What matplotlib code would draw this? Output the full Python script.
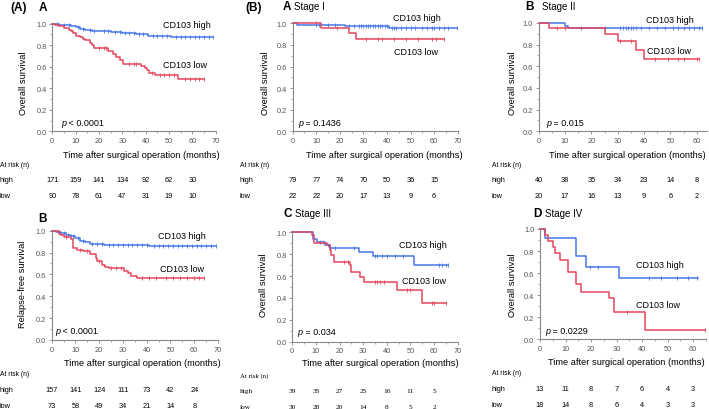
import numpy as np
import matplotlib
matplotlib.use("Agg")
import matplotlib.pyplot as plt
from matplotlib.transforms import blended_transform_factory
from matplotlib.ticker import MultipleLocator

W, H = 709, 410
BLUE = "#4676e6"
RED = "#e6455c"
AXGRAY = "#8a8a8a"
TICKGRAY = "#555555"

plt.rcParams["font.family"] = ["Liberation Sans", "DejaVu Sans"]

# ---- data ----
# (A) A: overall survival, all patients
osA_high_t = [0, 3, 5, 8, 10, 12, 14, 17, 25, 30, 36, 41, 51, 69]
osA_high_s = [1.0, 0.99, 0.985, 0.975, 0.965, 0.955, 0.94, 0.93, 0.92, 0.91, 0.90, 0.89, 0.875, 0.875]
osA_high_c = [2, 5, 7, 11, 13, 16, 18, 22, 24, 27, 29, 31, 33, 35, 37, 39, 43, 45, 47, 49,
              53, 55, 57, 59, 61, 63, 65, 67, 69]
osA_low_t = [0, 1, 3, 5, 7, 8, 9, 10, 12, 13, 14, 16, 17, 18, 24, 26, 27.5, 29, 30.5,
             38, 39.5, 40.5, 41.5, 44, 54, 65]
osA_low_s = [1.0, 0.99, 0.975, 0.96, 0.945, 0.93, 0.91, 0.89, 0.875, 0.86, 0.845, 0.82, 0.80,
             0.775, 0.75, 0.72, 0.69, 0.66, 0.625, 0.61, 0.59, 0.57, 0.545, 0.52, 0.49, 0.49]
osA_low_c = [20, 22, 23, 33, 35, 36, 42.5, 46, 48, 50, 52, 57, 59, 61, 63, 65]

# (A) B: relapse-free survival
rfs_high_t = [0, 2, 4, 6, 8, 10, 12, 14, 16, 22, 41, 69]
rfs_high_s = [1.0, 0.99, 0.98, 0.965, 0.95, 0.93, 0.91, 0.895, 0.88, 0.87, 0.857, 0.857]
rfs_high_c = [3, 5, 7, 9, 11, 13, 17, 19, 21, 24, 26, 28, 30, 32, 34, 36, 38, 40, 43, 45,
              47, 49, 51, 53, 55, 57, 59, 61, 63, 65, 67, 69]
rfs_low_t = [0, 3, 4, 5, 8, 9, 10.5, 13, 16, 18.5, 19, 21, 22.5, 24, 30.5, 32, 33.5, 36, 64]
rfs_low_s = [1.0, 0.97, 0.96, 0.945, 0.92, 0.84, 0.825, 0.81, 0.79, 0.75, 0.72, 0.69, 0.67,
             0.66, 0.635, 0.61, 0.59, 0.57, 0.57]
rfs_low_c = [6, 12, 15, 20, 25, 27, 29, 38, 41, 44, 48, 51, 54, 57, 60, 62, 64]

# (B) A: stage I
s1_high_t = [0, 2, 22, 41, 69.5]
s1_high_s = [1.0, 0.987, 0.974, 0.961, 0.961]
s1_high_c = [10, 11, 15, 18, 24, 26, 28, 29, 30, 31, 32, 33, 34, 35, 36, 37, 38, 39, 40, 42,
             43, 44, 46, 48, 50, 52, 55, 57, 59, 60, 62, 64, 66, 69.5]
s1_low_t = [0, 12, 24, 27, 64]
s1_low_s = [1.0, 0.955, 0.91, 0.855, 0.855]
s1_low_c = [10, 19, 31, 36, 38, 43, 48, 53, 59, 61, 64]

# (B) B: stage II
s2_high_t = [0, 10, 11, 62]
s2_high_s = [1.0, 0.975, 0.95, 0.95]
s2_high_c = [16, 25, 31, 32, 33, 34, 35, 36, 37, 39, 42, 45, 48, 51, 53, 55, 57, 59, 61, 62]
s2_low_t = [0, 4, 25, 30, 37, 40, 61]
s2_low_s = [1.0, 0.95, 0.895, 0.83, 0.75, 0.665, 0.665]
s2_low_c = [7, 10, 31, 35, 44, 49, 53, 55, 60, 61]

# (B) C: stage III
s3_high_t = [0, 8.6, 10.3, 13.8, 15.9, 28.2, 34.3, 51.6, 66]
s3_high_s = [1.0, 0.94, 0.915, 0.885, 0.855, 0.82, 0.78, 0.70, 0.70]
s3_high_c = [11.7, 13, 15, 18, 26, 35, 36, 38, 40, 43.4, 47, 62, 63.5, 65, 66]
s3_low_t = [0, 8.2, 9, 14.5, 16, 16.5, 17.5, 24.4, 25, 28.6, 30.3, 44.4, 54.7, 64.9]
s3_low_s = [1.0, 0.975, 0.90, 0.88, 0.84, 0.79, 0.73, 0.70, 0.635, 0.59, 0.55, 0.47, 0.355, 0.355]
s3_low_c = [21.9, 23.4, 35, 36, 37, 39, 48.4, 50, 59, 60, 64.9]

# (B) D: stage IV
s4_high_t = [0, 2, 14, 18, 31, 62]
s4_high_s = [1.0, 0.92, 0.753, 0.66, 0.557, 0.557]
s4_high_c = [19.7, 22.6, 42.7, 47.4, 53.5, 57.8, 61.5]
s4_low_t = [0, 2, 3, 5, 6, 8, 11, 14, 16, 27, 29, 41, 64.5]
s4_low_s = [1.0, 0.944, 0.889, 0.833, 0.778, 0.722, 0.611, 0.50, 0.43, 0.37, 0.247, 0.08, 0.08]
s4_low_c = [34, 64.5]

risk_times = [0, 10, 20, 30, 40, 50, 60]
osA_risk_high = [171, 159, 141, 134, 92, 62, 30]
osA_risk_low = [90, 78, 61, 47, 31, 19, 10]
rfs_risk_high = [157, 141, 124, 111, 73, 42, 24]
rfs_risk_low = [73, 58, 49, 34, 21, 14, 8]
s1_risk_high = [79, 77, 74, 70, 50, 36, 15]
s1_risk_low = [22, 22, 20, 17, 13, 9, 6]
s2_risk_high = [40, 38, 35, 34, 23, 14, 8]
s2_risk_low = [20, 17, 16, 13, 9, 6, 2]
s3_risk_high = [39, 35, 27, 25, 16, 11, 5]
s3_risk_low = [30, 28, 20, 14, 8, 5, 2]
s4_risk_high = [13, 11, 8, 7, 6, 4, 3]
s4_risk_low = [18, 14, 8, 6, 4, 3, 3]

fig = plt.figure(figsize=(W / 100, H / 100), dpi=100)


def ftext(x, y, s, **kw):
    """Text placed by pixel position (y from the top)."""
    kw.setdefault("va", "center")
    fig.text(x / W, 1 - y / H, s, **kw)


def km_axes(left, right, top, bottom, xmax):
    ax = fig.add_axes([left / W, 1 - bottom / H, (right - left) / W, (bottom - top) / H])
    ax.set_xlim(0, xmax)
    ax.set_ylim(0, 1)
    for side in ("top", "right"):
        ax.spines[side].set_visible(False)
    for side in ("left", "bottom"):
        ax.spines[side].set_color(AXGRAY)
        ax.spines[side].set_linewidth(0.8)
    ax.xaxis.set_major_locator(MultipleLocator(10))
    ax.xaxis.set_minor_locator(MultipleLocator(5))
    ax.yaxis.set_major_locator(MultipleLocator(0.2))
    ax.yaxis.set_minor_locator(MultipleLocator(0.1))
    ax.yaxis.set_major_formatter(lambda v, p: f"{v:.1f}")
    ax.tick_params(which="major", length=2.5, width=0.6, color=AXGRAY,
                   labelsize=5.3, labelcolor=TICKGRAY, pad=1.5)
    ax.tick_params(which="minor", length=1.5, width=0.5, color=AXGRAY)
    ax.patch.set_alpha(0)
    return ax


def km_curve(ax, t, s, cens, color):
    ax.step(t, s, where="post", color=color, lw=1.1, clip_on=False)
    t = np.asarray(t)
    s = np.asarray(s)
    idx = np.searchsorted(t, cens, side="right") - 1
    ax.plot(cens, s[idx], ls="none", marker="|", ms=3, mew=0.6, color=color, clip_on=False)


def risk_table(ax, x_lab, y0, high, low, family=None):
    kw = {"fontsize": 5.3}
    if family:
        kw["family"] = family
    ftext(x_lab, y0, "At risk (n)", **dict(kw, fontsize=4.9))
    ftext(x_lab, y0 + 15.5, "high", **kw)
    ftext(x_lab, y0 + 31.5, "low", **kw)
    tr = blended_transform_factory(ax.transData, fig.transFigure)
    for tm, h, l in zip(risk_times, high, low):
        ax.text(tm, 1 - (y0 + 15.5) / H, str(h), transform=tr, ha="center", va="center", **kw)
        ax.text(tm, 1 - (y0 + 31.5) / H, str(l), transform=tr, ha="center", va="center", **kw)


def ptext(x, y, s):
    # italic p followed by the upright rest of the p-value
    ftext(x, y, "p", fontsize=6.5, style="italic")
    ftext(x + 5.0, y, s, fontsize=6.5)


LAB = 6.7
CD = 6.5

# ---------------- (A) A ----------------
ax = km_axes(52.3, 215.7, 24.7, 132.3, 70)
km_curve(ax, osA_high_t, osA_high_s, osA_high_c, BLUE)
km_curve(ax, osA_low_t, osA_low_s, osA_low_c, RED)
ftext(10, 8, "(A)", fontsize=8.5, fontweight="bold")
ftext(39, 8, "A", fontsize=8.5, fontweight="bold")
ftext(23, 83, "Overall survival", fontsize=LAB, rotation=90, ha="center")
ftext(141, 155.7, "Time after surgical operation (months)", fontsize=LAB, ha="center")
ftext(163, 25, "CD103 high", fontsize=CD)
ftext(163, 65, "CD103 low", fontsize=CD)
ptext(61, 123, " < 0.0001")
risk_table(ax, 0, 165.5, osA_risk_high, osA_risk_low)

# ---------------- (A) B ----------------
ax = km_axes(51.7, 218, 231.7, 341, 70)
km_curve(ax, rfs_high_t, rfs_high_s, rfs_high_c, BLUE)
km_curve(ax, rfs_low_t, rfs_low_s, rfs_low_c, RED)
ftext(38, 219, "B", fontsize=8.5, fontweight="bold")
ftext(23, 284, "Relapse-free survival", fontsize=LAB, rotation=90, ha="center")
ftext(142.5, 364, "Time after surgical operation (months)", fontsize=LAB, ha="center")
ftext(157.7, 236.7, "CD103 high", fontsize=CD)
ftext(160, 270, "CD103 low", fontsize=CD)
ptext(55, 331.7, " < 0.0001")
risk_table(ax, 0, 374.7, rfs_risk_high, rfs_risk_low)

# ---------------- (B) A Stage I ----------------
ax = km_axes(292.7, 457.7, 24.3, 132.3, 70)
km_curve(ax, s1_high_t, s1_high_s, s1_high_c, BLUE)
km_curve(ax, s1_low_t, s1_low_s, s1_low_c, RED)
ftext(245, 7.5, "(B)", fontsize=8.5, fontweight="bold")
ftext(283, 7.5, "A", fontsize=8.5, fontweight="bold")
ftext(294.5, 7.5, "Stage I", fontsize=7)
ftext(265.7, 83, "Overall survival", fontsize=LAB, rotation=90, ha="center")
ftext(384.5, 155.7, "Time after surgical operation (months)", fontsize=LAB, ha="center")
ftext(392.7, 18.3, "CD103 high", fontsize=CD)
ftext(394.3, 52.7, "CD103 low", fontsize=CD)
ptext(298.3, 124, " = 0.1436")
risk_table(ax, 240, 165.5, s1_risk_high, s1_risk_low)

# ---------------- (B) B Stage II ----------------
ax = km_axes(538.7, 707.2, 24, 132.3, 64)
km_curve(ax, s2_high_t, s2_high_s, s2_high_c, BLUE)
km_curve(ax, s2_low_t, s2_low_s, s2_low_c, RED)
ftext(525, 7.5, "B", fontsize=8.5, fontweight="bold")
ftext(542.3, 7.5, "Stage II", fontsize=7)
ftext(512.3, 83, "Overall survival", fontsize=LAB, rotation=90, ha="center")
ftext(627.7, 155.7, "Time after surgical operation (months)", fontsize=LAB, ha="center")
ftext(645.7, 20.7, "CD103 high", fontsize=CD)
ftext(647.3, 51, "CD103 low", fontsize=CD)
ptext(546, 123.3, " = 0.015")
risk_table(ax, 491.7, 165.3, s2_risk_high, s2_risk_low)

# ---------------- (B) C Stage III ----------------
ax = km_axes(292.3, 457.7, 233.3, 342.7, 70)
km_curve(ax, s3_high_t, s3_high_s, s3_high_c, BLUE)
km_curve(ax, s3_low_t, s3_low_s, s3_low_c, RED)
ftext(283.3, 214, "C", fontsize=8.5, fontweight="bold")
ftext(295, 214, "Stage III", fontsize=7)
ftext(263.3, 285, "Overall survival", fontsize=LAB, rotation=90, ha="center")
ftext(380.3, 364, "Time after surgical operation (months)", fontsize=LAB, ha="center")
ftext(399.3, 245.7, "CD103 high", fontsize=CD)
ftext(401.7, 281.7, "CD103 low", fontsize=CD)
ptext(297.7, 332.3, " = 0.034")
risk_table(ax, 240, 375.7, s3_risk_high, s3_risk_low, family="Liberation Serif")

# ---------------- (B) D Stage IV ----------------
ax = km_axes(540, 706, 230, 340.3, 65)
km_curve(ax, s4_high_t, s4_high_s, s4_high_c, BLUE)
km_curve(ax, s4_low_t, s4_low_s, s4_low_c, RED)
ftext(533.3, 214, "D", fontsize=8.5, fontweight="bold")
ftext(545, 214, "Stage IV", fontsize=7)
ftext(512.7, 285, "Overall survival", fontsize=LAB, rotation=90, ha="center")
ftext(626, 362.3, "Time after surgical operation (months)", fontsize=LAB, ha="center")
ftext(635.7, 266, "CD103 high", fontsize=CD)
ftext(635.7, 306, "CD103 low", fontsize=CD)
ptext(545, 331.7, " = 0.0229")
risk_table(ax, 491.7, 374, s4_risk_high, s4_risk_low)

fig.savefig("out.png", dpi=100)
